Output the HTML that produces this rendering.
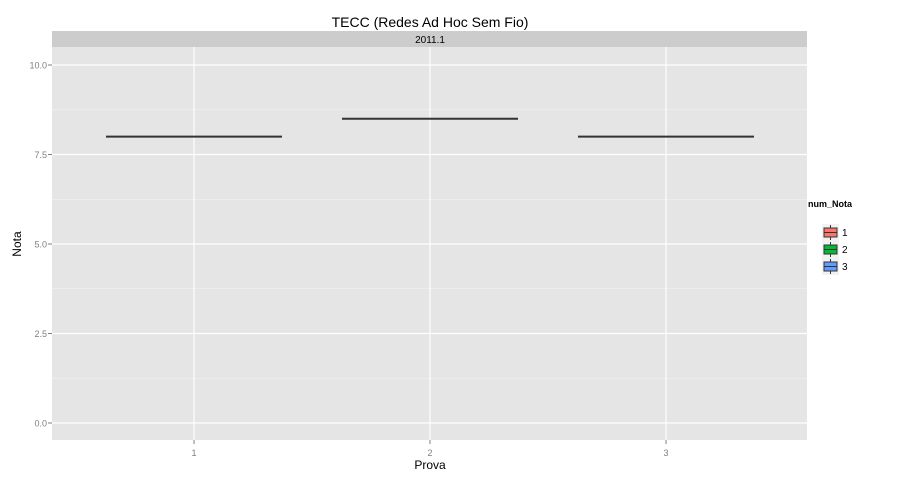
<!DOCTYPE html>
<html><head><meta charset="utf-8"><style>
body{margin:0;background:#fff;font-family:"Liberation Sans",sans-serif}
</style></head><body>
<svg id="chart" width="900" height="480" xmlns="http://www.w3.org/2000/svg" font-family="Liberation Sans, sans-serif">
<rect width="900" height="480" fill="#fff"/>
<text x="430" y="27" font-size="14" text-anchor="middle">TECC (Redes Ad Hoc Sem Fio)</text>
<rect x="52" y="31" width="755" height="16" fill="#cccccc"/>
<text x="430" y="43" font-size="10" text-anchor="middle">2011.1</text>
<rect x="52" y="47" width="755" height="393" fill="#e5e5e5"/>
<g id="grid"></g>
<g id="marks"></g>
<g id="axes"></g>
<text x="430" y="469" font-size="12" text-anchor="middle">Prova</text>
<text x="21" y="244" font-size="12" text-anchor="middle" transform="rotate(-90 21 244)">Nota</text>
<g>
<text x="808" y="207" font-size="9" font-weight="bold">num_Nota</text>
<g id="legend"></g>
</g>
</svg>
<script>
const categories=["1","2","3"];
const medians=[8,8.5,8];
const yTicks=[0,2.5,5,7.5,10];
const yTickLabels=["0.0","2.5","5.0","7.5","10.0"];
const legendLabels=["1","2","3"];
const legendColors=["#f8766d","#00ba38","#619cff"];
const NS="http://www.w3.org/2000/svg";
const x0=52,x1=807;
function xs(i){return 194+i*236;}
function ys(v){return 423-v*35.8;}
function mk(t,a,p){const e=document.createElementNS(NS,t);for(const k in a)e.setAttribute(k,a[k]);p.appendChild(e);return e;}
const grid=document.getElementById('grid'),marks=document.getElementById('marks'),axes=document.getElementById('axes'),leg=document.getElementById('legend');
for(let i=0;i<yTicks.length-1;i++){
 const l=mk('line',{x1:x0,x2:x1,y1:ys((yTicks[i]+yTicks[i+1])/2),y2:ys((yTicks[i]+yTicks[i+1])/2),stroke:'#f2f2f2','stroke-width':0.6},grid);
 
 
}
yTicks.forEach((v,i)=>{
 const l=mk('line',{x1:x0,x2:x1,y1:ys(v),y2:ys(v),stroke:'#fff','stroke-width':1.2},grid);
 
 
 const t=mk('text',{x:47,y:ys(v)+3.5,'font-size':9,fill:'#7f7f7f','text-anchor':'end'},axes);
 t.textContent=yTickLabels[i];
 
 
 const tk=mk('line',{x1:48,x2:52,y1:ys(v),y2:ys(v),stroke:'#7f7f7f'},axes);
 
 
});
categories.forEach((c,i)=>{
 const l=mk('line',{x1:xs(i),x2:xs(i),y1:47,y2:440,stroke:'#fff','stroke-width':1.2},grid);
 
 
 const t=mk('text',{x:xs(i),y:456,'font-size':9,fill:'#7f7f7f','text-anchor':'middle'},axes);
 t.textContent=c;
 
 
 const tk=mk('line',{x1:xs(i),x2:xs(i),y1:440,y2:444,stroke:'#7f7f7f'},axes);
 
 
 const b=mk('line',{x1:xs(i)-88,x2:xs(i)+88,y1:ys(medians[i]),y2:ys(medians[i]),stroke:'#333','stroke-width':2},marks);
 
 
});
legendLabels.forEach((lab,i)=>{
 const y=224+i*17;
 mk('rect',{x:822,y:y,width:17,height:17,fill:'#f2f2f2'},leg);
 mk('line',{x1:830.5,x2:830.5,y1:y+1,y2:y+16,stroke:'#333'},leg);
 const r=mk('rect',{x:824,y:y+4,width:13,height:9,fill:legendColors[i],stroke:'#333','stroke-width':1},leg);
 
 
 mk('line',{x1:824,x2:837,y1:y+8.5,y2:y+8.5,stroke:'#333'},leg);
 const t=mk('text',{x:842,y:y+12,'font-size':10},leg);
 t.textContent=lab;
 
 
});
</script>
</body></html>
